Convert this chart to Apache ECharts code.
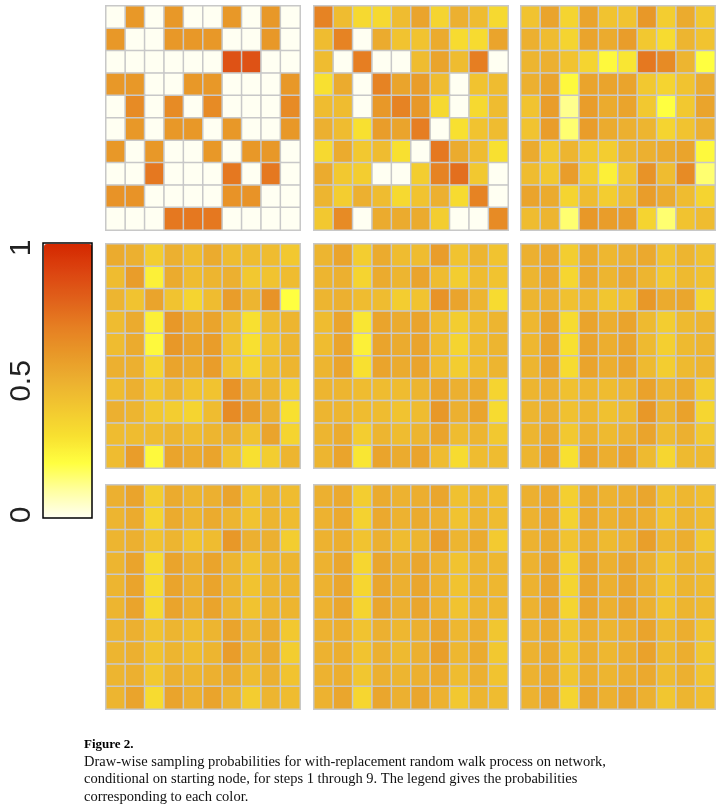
<!DOCTYPE html>
<html>
<head>
<meta charset="utf-8">
<script src="https://cdn.jsdelivr.net/npm/echarts@6/dist/echarts.min.js"></script>
<style>html,body{margin:0;padding:0;background:#fff}#main{width:720px;height:811px}</style>
</head>
<body>
<div id="main"></div>
<script>
// node indices for the 10x10 panels
var cols = ['1','2','3','4','5','6','7','8','9','10'];
var rows = ['1','2','3','4','5','6','7','8','9','10'];
var legendLabels = ['0', '0.5', '1'];

// sampling probabilities, one panel per step, rows top to bottom
var step1 = [
  [0,.6,0,.6,0,0,.6,0,.6,0],
  [.6,0,0,.6,.6,.6,0,0,.6,0],
  [0,0,0,0,0,0,.85,.85,0,0],
  [.6,.6,0,0,.6,.6,0,0,0,.6],
  [0,.65,0,.65,0,.65,0,0,0,.65],
  [0,.6,0,.6,.6,0,.6,0,0,.6],
  [.6,0,.6,0,0,.6,0,.6,.6,0],
  [0,0,.72,0,0,0,.72,0,.72,0],
  [.62,.62,0,0,0,0,.62,.62,0,0],
  [0,0,0,.72,.72,.72,0,0,0,0]
];
var step2 = [
  [.68,.45,.33,.33,.45,.55,.35,.5,.45,.33],
  [.45,.68,0,.52,.42,.42,.52,.32,.32,.55],
  [.45,0,.7,0,0,.45,.55,.45,.7,0],
  [.3,.52,0,.68,.55,.58,.45,0,.42,.45],
  [.45,.45,0,.6,.68,.6,.33,0,.33,.45],
  [.5,.45,.3,.58,.55,.7,0,.3,.42,.45],
  [.33,.52,.4,.45,.3,0,.72,.52,.45,.3],
  [.52,.4,.38,0,0,.38,.68,.75,.4,0],
  [.48,.38,.5,.45,.33,.42,.5,.32,.68,0],
  [.4,.65,0,.52,.52,.52,.38,0,0,.65]
];
var step3 = [
  [.42,.55,.35,.55,.42,.42,.6,.38,.52,.4],
  [.5,.45,.35,.55,.52,.58,.4,.32,.48,.42],
  [.48,.5,.42,.35,.22,.28,.72,.65,.48,.2],
  [.5,.55,.22,.55,.55,.55,.4,.35,.42,.52],
  [.42,.58,.12,.58,.52,.55,.4,.2,.4,.55],
  [.42,.58,.15,.58,.52,.5,.48,.35,.42,.5],
  [.52,.4,.48,.4,.38,.48,.5,.52,.55,.22],
  [.45,.4,.58,.38,.25,.42,.62,.45,.65,.15],
  [.55,.52,.35,.45,.38,.45,.58,.52,.45,.35],
  [.45,.48,.15,.6,.58,.58,.35,.15,.42,.45]
];
var step4 = [
  [.52,.5,.38,.5,.45,.52,.45,.45,.45,.4],
  [.45,.58,.25,.52,.45,.48,.5,.4,.42,.45],
  [.48,.42,.55,.42,.35,.45,.58,.48,.62,.2],
  [.45,.52,.25,.6,.52,.55,.45,.3,.45,.48],
  [.45,.52,.22,.6,.55,.58,.42,.3,.42,.48],
  [.5,.5,.35,.55,.52,.58,.42,.35,.45,.48],
  [.45,.5,.4,.48,.42,.42,.62,.5,.48,.38],
  [.5,.48,.4,.38,.35,.45,.65,.58,.5,.3],
  [.45,.45,.45,.48,.45,.48,.5,.42,.55,.35],
  [.45,.58,.22,.55,.52,.55,.42,.3,.38,.48]
];
var step5 = [
  [.48,.55,.38,.52,.45,.45,.58,.42,.48,.42],
  [.48,.5,.35,.52,.48,.55,.45,.38,.45,.42],
  [.48,.5,.45,.45,.38,.42,.62,.55,.48,.32],
  [.45,.55,.28,.55,.52,.55,.45,.38,.45,.48],
  [.45,.55,.25,.55,.52,.55,.45,.35,.45,.48],
  [.48,.55,.3,.55,.52,.55,.45,.38,.45,.48],
  [.48,.48,.45,.45,.45,.48,.55,.5,.52,.35],
  [.48,.48,.45,.45,.42,.45,.6,.5,.55,.32],
  [.48,.52,.38,.48,.45,.48,.55,.45,.48,.4],
  [.48,.55,.28,.55,.52,.55,.45,.32,.45,.45]
];
var step6 = [
  [.5,.53,.38,.52,.47,.5,.53,.42,.48,.43],
  [.48,.53,.34,.53,.48,.53,.48,.4,.46,.43],
  [.48,.5,.43,.47,.41,.44,.6,.52,.54,.34],
  [.47,.55,.32,.55,.51,.55,.46,.38,.46,.48],
  [.47,.55,.3,.55,.51,.55,.46,.37,.46,.48],
  [.48,.55,.32,.55,.51,.55,.46,.38,.46,.48],
  [.48,.5,.43,.47,.45,.48,.56,.48,.52,.38],
  [.48,.5,.43,.47,.43,.46,.6,.48,.56,.34],
  [.48,.52,.4,.49,.46,.49,.55,.45,.5,.4],
  [.48,.55,.3,.55,.51,.55,.46,.34,.46,.46]
];
var step7 = [
  [.5,.55,.38,.52,.48,.5,.55,.42,.48,.45],
  [.48,.52,.35,.52,.48,.52,.48,.42,.48,.45],
  [.48,.5,.42,.48,.42,.45,.6,.5,.5,.38],
  [.48,.55,.32,.55,.5,.55,.48,.42,.48,.48],
  [.48,.55,.32,.55,.5,.55,.48,.42,.48,.48],
  [.48,.55,.33,.55,.5,.55,.48,.42,.48,.48],
  [.48,.5,.42,.48,.45,.48,.55,.48,.52,.4],
  [.48,.5,.42,.48,.45,.48,.58,.48,.52,.38],
  [.48,.5,.4,.5,.48,.5,.52,.45,.5,.42],
  [.48,.55,.32,.55,.5,.55,.48,.38,.48,.45]
];
var step8 = [
  [.5,.53,.38,.52,.49,.51,.54,.43,.47,.44],
  [.49,.53,.36,.53,.49,.52,.5,.42,.48,.45],
  [.49,.51,.42,.5,.45,.48,.58,.48,.52,.39],
  [.49,.54,.34,.54,.5,.54,.49,.42,.48,.47],
  [.49,.54,.34,.54,.5,.54,.49,.42,.48,.47],
  [.49,.54,.35,.54,.5,.54,.49,.42,.48,.47],
  [.49,.51,.42,.5,.47,.5,.55,.47,.51,.41],
  [.49,.51,.42,.5,.46,.5,.57,.47,.52,.4],
  [.49,.51,.41,.5,.48,.5,.53,.45,.5,.42],
  [.49,.54,.34,.54,.5,.54,.49,.4,.48,.45]
];
var step9 = [
  [.5,.53,.37,.52,.49,.51,.54,.43,.47,.44],
  [.49,.53,.36,.53,.49,.52,.51,.42,.48,.45],
  [.49,.52,.42,.51,.46,.49,.57,.47,.51,.4],
  [.49,.54,.35,.54,.5,.54,.5,.42,.48,.46],
  [.49,.54,.35,.54,.5,.54,.5,.42,.48,.46],
  [.49,.54,.35,.54,.5,.54,.5,.42,.48,.46],
  [.49,.52,.41,.51,.48,.51,.55,.46,.51,.42],
  [.49,.52,.41,.51,.47,.51,.56,.46,.51,.41],
  [.49,.52,.41,.51,.48,.51,.53,.45,.5,.42],
  [.49,.54,.35,.54,.5,.54,.5,.41,.48,.44]
];
var steps = [step1, step2, step3, step4, step5, step6, step7, step8, step9];

var chartDom = document.getElementById('main');
var myChart = echarts.init(chartDom);
var option;

var lefts = [106, 314, 521];
var tops = [6, 244, 485];
var grids = [], xAxes = [], yAxes = [], series = [];
steps.forEach(function (m, k) {
  grids.push({ left: lefts[k % 3], top: tops[Math.floor(k / 3)], width: 194, height: 224,
    show: true, borderColor: '#c8c8c8', borderWidth: 2, backgroundColor: '#c8c8c8' });
  xAxes.push({ type: 'category', data: cols, gridIndex: k, show: false });
  yAxes.push({ type: 'category', data: rows, gridIndex: k, show: false, inverse: true });
  var d = [];
  m.forEach(function (r, i) { r.forEach(function (v, j) { d.push([j, i, v]); }); });
  series.push({ type: 'heatmap', xAxisIndex: k, yAxisIndex: k, data: d,
    itemStyle: { borderColor: '#c8c8c8', borderWidth: 1.5 }, emphasis: { disabled: true } });
});

var labelFont = { fontFamily: 'Liberation Sans', fontSize: 30, fill: '#222' };
option = {
  animation: false,
  grid: grids,
  xAxis: xAxes,
  yAxis: yAxes,
  visualMap: {
    type: 'continuous', min: 0, max: 1, left: 44, top: 244, padding: 0,
    itemWidth: 48, itemHeight: 274, calculable: false, text: null, showLabel: false,
    seriesIndex: [0,1,2,3,4,5,6,7,8],
    inRange: { color: ['#fffff2','#ffffa0','#ffff40','#f8e030','#f2c830','#ecb030','#e89828','#e67e22','#e0601a','#dc4410','#d42800'] }
  },
  graphic: [
    { type: 'rect', shape: { x: 43, y: 243, width: 49, height: 275 }, style: { fill: 'none', stroke: '#000', lineWidth: 1.5 }, z: 100 },
    { type: 'text', x: 22, y: 515, rotation: Math.PI / 2, style: Object.assign({ text: legendLabels[0], textAlign: 'center', textVerticalAlign: 'middle' }, labelFont) },
    { type: 'text', x: 22, y: 381, rotation: Math.PI / 2, style: Object.assign({ text: legendLabels[1], textAlign: 'center', textVerticalAlign: 'middle' }, labelFont) },
    { type: 'text', x: 22, y: 248, rotation: Math.PI / 2, style: Object.assign({ text: legendLabels[2], textAlign: 'center', textVerticalAlign: 'middle' }, labelFont) },
    { type: 'text', left: 84, top: 738, style: { text: 'Figure 2.', fontFamily: 'Liberation Serif', fontSize: 13, fontWeight: 'bold', fill: '#000' } },
    { type: 'text', left: 84, top: 753, style: { text: 'Draw-wise sampling probabilities for with-replacement random walk process on network,\nconditional on starting node, for steps 1 through 9. The legend gives the probabilities\ncorresponding to each color.', fontFamily: 'Liberation Serif', fontSize: 14.5, lineHeight: 17.5, fill: '#111' } }
  ],
  series: series
};

option && myChart.setOption(option);
</script>
</body>
</html>
